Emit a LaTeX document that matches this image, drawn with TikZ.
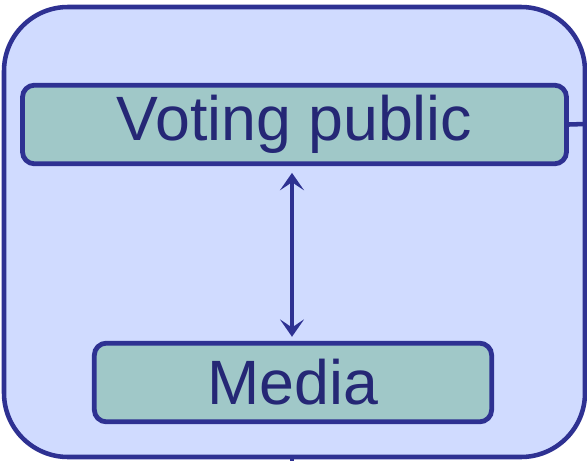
\documentclass[tikz,border=0pt]{standalone}
\usepackage{fontspec}
\setmainfont{Liberation Sans}
\usepackage{tikz}
\usetikzlibrary{arrows.meta}

\definecolor{navy}{HTML}{2E3192}
\definecolor{skyfill}{HTML}{D0DBFF}
\definecolor{tealfill}{HTML}{A0C8C8}

\tikzset{
    actor/.style={draw=navy, fill=tealfill, line width=3.6pt, rounded corners=9pt,
        text=navy!80!black, font=\fontsize{47}{50}\selectfont, inner sep=0pt},
    linktip/.tip={Stealth[length=13pt,width=18pt,inset=6pt]},
}

\begin{document}
\begin{tikzpicture}[x=0.75pt, y=-0.75pt]
    \useasboundingbox (0,0) rectangle (587,461);

    % outer frame
    \draw[navy, fill=skyfill, line width=3.4pt, rounded corners=48pt] (4,7) rectangle (585,457);
    \coordinate (frameR) at (585,124);
    \coordinate (frameB) at (292,457);
    \coordinate (offB) at (292,465);

    % actors
    \node[actor, minimum width=408pt, minimum height=59pt] (vote) at (294.5,124.5) {Voting public};
    \node[actor, minimum width=298pt, minimum height=59pt] (media) at (293,382.5) {Media};

    % links
    \draw[navy, line width=2.4pt, linktip-linktip, shorten <=5pt, shorten >=3pt]
        (vote.south -| 292,0) -- (media.north -| 292,0);
    \draw[navy, line width=3.4pt] (vote.east) -- (frameR);
    \draw[navy, line width=3.4pt] (frameB) -- (offB);
\end{tikzpicture}
\end{document}
